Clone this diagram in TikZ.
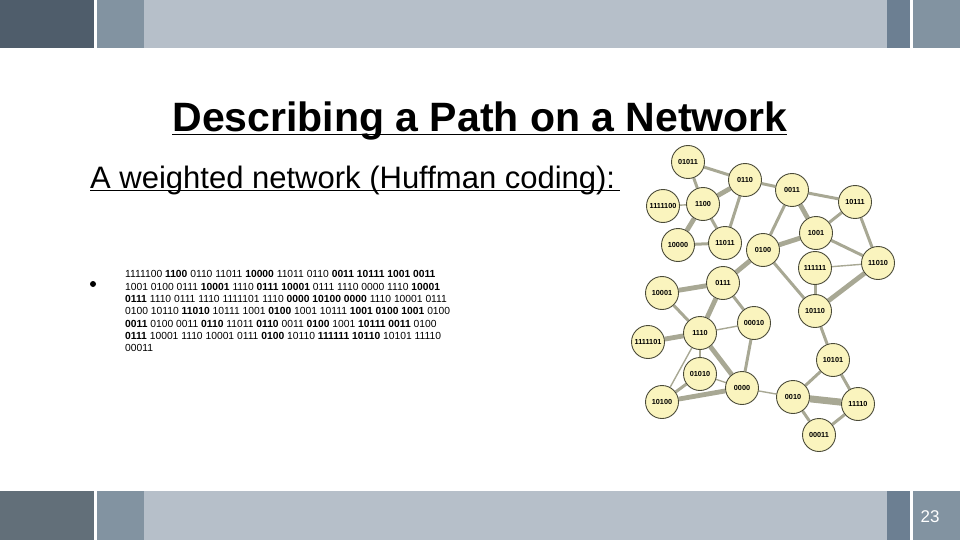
\documentclass[tikz,border=0pt]{standalone}
\usepackage{fontspec}
\setmainfont{Liberation Sans}
\usetikzlibrary{backgrounds}
\definecolor{hdark}{HTML}{4F5D6B}
\definecolor{fdark}{HTML}{626F79}
\definecolor{bmed}{HTML}{8293A1}
\definecolor{blight}{HTML}{B6BFC9}
\definecolor{bslate}{HTML}{6C7F92}
\definecolor{nfill}{HTML}{FAF4BE}
\definecolor{nborder}{HTML}{4A4A38}
\definecolor{ecol}{HTML}{A8A894}
\tikzset{
  nd/.style={circle, minimum size=33pt, inner sep=0pt, fill=nfill, draw=nborder, line width=0.9pt,
    font=\bfseries\fontsize{7.3}{8}\selectfont},
  e1/.style={draw=ecol, line width=1.4pt},
  e2/.style={draw=ecol, line width=3pt},
  e3/.style={draw=ecol, line width=4.8pt},
  e4/.style={draw=ecol, line width=7pt}
}
\begin{document}
\begin{tikzpicture}[x=1pt,y=-1pt]
\useasboundingbox (0,0) rectangle (960,540);
% header bars
\fill[hdark] (0,0) rectangle (94,48);
\fill[bmed] (97,0) rectangle (144,48);
\fill[blight] (144,0) rectangle (887,48);
\fill[bslate] (887,0) rectangle (910,48);
\fill[bmed] (913,0) rectangle (960,48);
% footer bars
\fill[fdark] (0,491) rectangle (94,540);
\fill[bmed] (97,491) rectangle (144,540);
\fill[blight] (144,491) rectangle (887,540);
\fill[bslate] (887,491) rectangle (910,540);
\fill[bmed] (913,491) rectangle (960,540);
\node[anchor=center, text=white, font=\fontsize{17}{18}\selectfont] (pagenum) at (930,517) {23};

% title
\node[anchor=base, inner sep=0pt, font=\bfseries\fontsize{41}{44}\selectfont] (title) at (480,132) {Describing a Path on a Network};
\draw[line width=1.6pt] (title.base west) ++(0,2.5) -- ++(615,0);
% subtitle
\node[anchor=base west, inner sep=0pt, font=\fontsize{31}{34}\selectfont] (sub) at (90,188) {A weighted network (Huffman coding):};
\draw[line width=1.2pt] (sub.base west) ++(0,2.5) -- ++(530,0);

% bullet
\fill (93,284) circle (3pt);
\node[anchor=north west, inner sep=0pt, align=left, font=\fontsize{10.3}{12.3}\selectfont] (bin) at (125,270.5) {%
1111100 \textbf{1100} 0110 11011 \textbf{10000} 11011 0110 \textbf{0011} \textbf{10111} \textbf{1001} \textbf{0011}\\
1001 0100 0111 \textbf{10001} 1110 \textbf{0111} \textbf{10001} 0111 1110 0000 1110 \textbf{10001}\\
\textbf{0111} 1110 0111 1110 1111101 1110 \textbf{0000} \textbf{10100} \textbf{0000} 1110 10001 0111\\
0100 10110 \textbf{11010} 10111 1001 \textbf{0100} 1001 10111 \textbf{1001} \textbf{0100} \textbf{1001} 0100\\
\textbf{0011} 0100 0011 \textbf{0110} 11011 \textbf{0110} 0011 \textbf{0100} 1001 \textbf{10111} \textbf{0011} 0100\\
\textbf{0111} 10001 1110 10001 0111 \textbf{0100} 10110 \textbf{111111} \textbf{10110} 10101 11110\\
00011};

% network nodes
\node[nd] (n01011) at (688,162) {01011};
\node[nd] (n0110) at (745,180) {0110};
\node[nd] (n1111100) at (663,206) {1111100};
\node[nd] (n1100) at (703,204) {1100};
\node[nd] (n0011) at (792,190) {0011};
\node[nd] (n10111) at (855,202) {10111};
\node[nd] (n1001) at (816,233) {1001};
\node[nd] (n10000) at (678,245) {10000};
\node[nd] (n11011) at (725,243) {11011};
\node[nd] (n0100) at (763,250) {0100};
\node[nd] (n111111) at (815,268) {111111};
\node[nd] (n11010) at (878,263) {11010};
\node[nd] (n10001) at (662,293) {10001};
\node[nd] (n0111) at (723,283) {0111};
\node[nd] (n10110) at (815,311) {10110};
\node[nd] (n00010) at (754,323) {00010};
\node[nd] (n1110) at (700,333) {1110};
\node[nd] (n1111101) at (648,342) {1111101};
\node[nd] (n10101) at (833,360) {10101};
\node[nd] (n01010) at (700,374) {01010};
\node[nd] (n0000) at (742,388) {0000};
\node[nd] (n10100) at (662,402) {10100};
\node[nd] (n0010) at (793,397) {0010};
\node[nd] (n11110) at (858,404) {11110};
\node[nd] (n00011) at (819,435) {00011};

\begin{scope}[on background layer]
\draw[e2] (n01011) -- (n0110);
\draw[e2] (n01011) -- (n1100);
\draw[e3] (n0110) -- (n1100);
\draw[e2] (n0110) -- (n0011);
\draw[e2] (n0110) -- (n11011);
\draw[e1] (n1111100) -- (n1100);
\draw[e3] (n1100) -- (n10000);
\draw[e2] (n1100) -- (n11011);
\draw[e2] (n10000) -- (n11011);
\draw[e2] (n0011) -- (n0100);
\draw[e3] (n0011) -- (n1001);
\draw[e2] (n0011) -- (n10111);
\draw[e2] (n10111) -- (n1001);
\draw[e2] (n10111) -- (n11010);
\draw[e3] (n1001) -- (n0100);
\draw[e2] (n1001) -- (n11010);
\draw[e3] (n0100) -- (n0111);
\draw[e2] (n0100) -- (n10110);
\draw[e1] (n111111) -- (n11010);
\draw[e2] (n111111) -- (n10110);
\draw[e3] (n11010) -- (n10110);
\draw[e2] (n10110) -- (n10101);
\draw[e3] (n0111) -- (n10001);
\draw[e3] (n0111) -- (n1110);
\draw[e2] (n0111) -- (n00010);
\draw[e2] (n10001) -- (n1110);
\draw[e3] (n1110) -- (n1111101);
\draw[e1] (n1110) -- (n00010);
\draw[e1] (n1110) -- (n01010);
\draw[e3] (n1110) -- (n0000);
\draw[e1] (n1110) -- (n10100);
\draw[e2] (n00010) -- (n0000);
\draw[e1] (n01010) -- (n0000);
\draw[e2] (n01010) -- (n10100);
\draw[e3] (n10100) -- (n0000);
\draw[e1] (n0000) -- (n0010);
\draw[e2] (n10101) -- (n0010);
\draw[e2] (n10101) -- (n11110);
\draw[e4] (n0010) -- (n11110);
\draw[e2] (n0010) -- (n00011);
\draw[e2] (n11110) -- (n00011);
\end{scope}
\end{tikzpicture}
\end{document}
